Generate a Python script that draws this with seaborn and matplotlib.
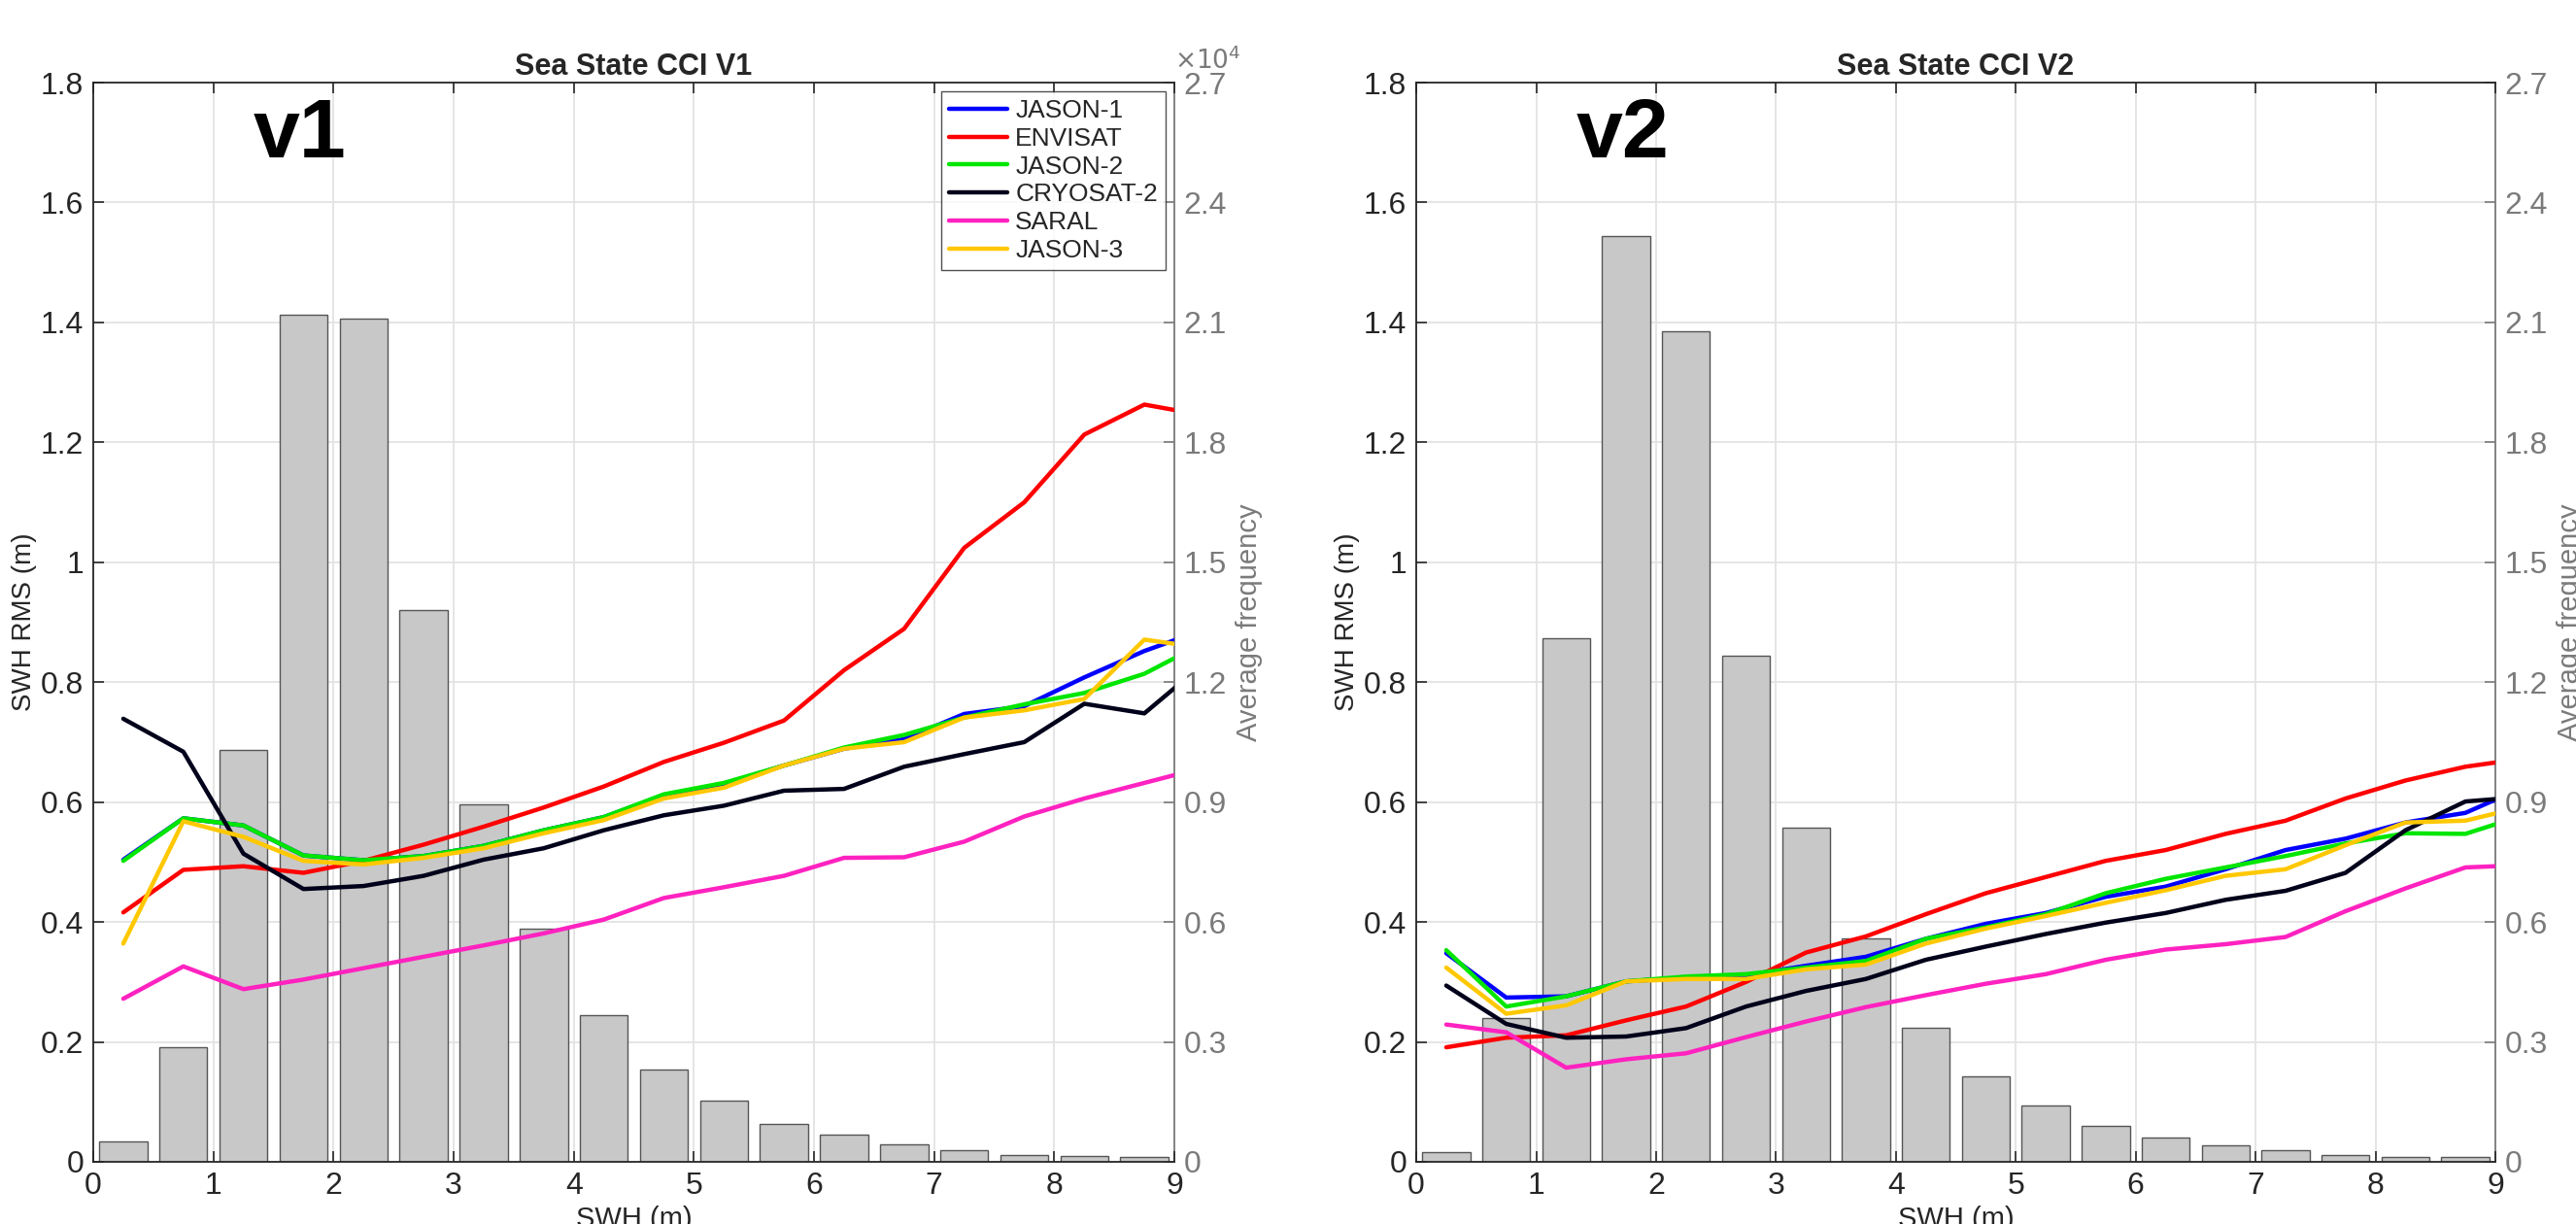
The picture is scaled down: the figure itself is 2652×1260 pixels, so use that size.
import numpy as np
import pandas as pd
import seaborn as sns
import matplotlib
matplotlib.use("Agg")
import matplotlib.pyplot as plt
from matplotlib.lines import Line2D
from matplotlib.ticker import FuncFormatter

sns.set_style("ticks")
plt.rcParams['font.family'] = ['Liberation Sans', 'DejaVu Sans']

# bin centres (m); the last line point lies past the axis and gets clipped at 9
bin_centres = [0.25, 0.75, 1.25, 1.75, 2.25, 2.75, 3.25, 3.75, 4.25,
               4.75, 5.25, 5.75, 6.25, 6.75, 7.25, 7.75, 8.25, 8.75]
line_x = bin_centres + [9.25]

missions = ['JASON-1', 'ENVISAT', 'JASON-2', 'CRYOSAT-2', 'SARAL', 'JASON-3']
colours = ['#0000ff', '#ff0000', '#00e600', '#00001a', '#ff22c0', '#ffc800']

# average frequency, in units of 1e4
v1_freq = [0.052, 0.286, 1.03, 2.12, 2.11, 1.38, 0.894, 0.584, 0.366,
           0.231, 0.154, 0.094, 0.068, 0.044, 0.028, 0.018, 0.014, 0.013]
v2_freq = [0.025, 0.359, 1.309, 2.317, 2.078, 1.267, 0.835, 0.560, 0.336,
           0.213, 0.141, 0.089, 0.060, 0.041, 0.028, 0.018, 0.013, 0.013]

# SWH RMS (m), version 1
v1_jason1 = [0.504, 0.573, 0.561, 0.511, 0.503, 0.510, 0.527, 0.553, 0.575, 0.611,
             0.630, 0.661, 0.689, 0.705, 0.747, 0.760, 0.808, 0.852, 0.888]
v1_envisat = [0.416, 0.487, 0.493, 0.482, 0.502, 0.529, 0.559, 0.591, 0.626, 0.667,
              0.699, 0.736, 0.820, 0.889, 1.024, 1.100, 1.213, 1.263, 1.245]
v1_jason2 = [0.502, 0.573, 0.561, 0.511, 0.503, 0.510, 0.527, 0.553, 0.575, 0.613,
             0.632, 0.661, 0.691, 0.712, 0.741, 0.763, 0.782, 0.814, 0.866]
v1_cryosat2 = [0.739, 0.684, 0.514, 0.455, 0.460, 0.477, 0.504, 0.523, 0.553, 0.578,
               0.594, 0.619, 0.622, 0.659, 0.680, 0.700, 0.764, 0.748, 0.832]
v1_saral = [0.272, 0.326, 0.288, 0.304, 0.323, 0.342, 0.361, 0.381, 0.404, 0.440,
            0.458, 0.477, 0.507, 0.508, 0.534, 0.576, 0.606, 0.632, 0.658]
v1_jason3 = [0.364, 0.568, 0.542, 0.502, 0.496, 0.507, 0.523, 0.548, 0.570, 0.606,
             0.624, 0.661, 0.689, 0.700, 0.741, 0.753, 0.772, 0.871, 0.857]

# SWH RMS (m), version 2
v2_jason1 = [0.348, 0.274, 0.276, 0.301, 0.307, 0.311, 0.327, 0.342, 0.372, 0.397,
             0.415, 0.442, 0.459, 0.488, 0.520, 0.539, 0.566, 0.582, 0.626]
v2_envisat = [0.191, 0.207, 0.211, 0.236, 0.259, 0.300, 0.349, 0.376, 0.413, 0.448,
              0.475, 0.502, 0.520, 0.547, 0.569, 0.606, 0.636, 0.659, 0.673]
v2_jason2 = [0.353, 0.259, 0.276, 0.301, 0.309, 0.313, 0.324, 0.335, 0.372, 0.391,
             0.413, 0.448, 0.472, 0.491, 0.510, 0.531, 0.548, 0.547, 0.579]
v2_cryosat2 = [0.294, 0.230, 0.207, 0.209, 0.223, 0.259, 0.285, 0.305, 0.337, 0.359,
               0.380, 0.399, 0.415, 0.437, 0.452, 0.482, 0.553, 0.601, 0.609]
v2_saral = [0.229, 0.216, 0.157, 0.171, 0.181, 0.208, 0.234, 0.258, 0.278, 0.297,
            0.313, 0.337, 0.354, 0.363, 0.375, 0.418, 0.456, 0.491, 0.495]
v2_jason3 = [0.324, 0.247, 0.261, 0.301, 0.305, 0.305, 0.321, 0.329, 0.364, 0.389,
             0.410, 0.432, 0.453, 0.477, 0.488, 0.528, 0.566, 0.569, 0.593]

v1_rms = [v1_jason1, v1_envisat, v1_jason2, v1_cryosat2, v1_saral, v1_jason3]
v2_rms = [v2_jason1, v2_envisat, v2_jason2, v2_cryosat2, v2_saral, v2_jason3]

DARK = '#262626'
GREY = '#7a7a7a'


def long_table(rms_lists):
    rows = []
    for name, vals in zip(missions, rms_lists):
        for x, v in zip(line_x, vals):
            rows.append((name, x, v))
    return pd.DataFrame(rows, columns=['mission', 'swh', 'rms'])


def draw_panel(ax, freq, rms_lists, title, tag, legend=False, exponent=False):
    tw = ax.twinx()
    ax.set_zorder(tw.get_zorder() + 1)
    ax.patch.set_visible(False)

    sns.barplot(x=bin_centres, y=freq, native_scale=True, width=0.8,
                color='#c8c8c8', saturation=1, edgecolor='#555555',
                linewidth=1.0, ax=tw)

    sns.lineplot(data=long_table(rms_lists), x='swh', y='rms', hue='mission',
                 hue_order=missions, palette=colours, linewidth=3.2,
                 legend=False, ax=ax)

    ax.set_xlim(0, 9)
    ax.set_ylim(0, 1.8)
    tw.set_ylim(0, 2.7)
    ax.set_xticks(np.arange(0, 10, 1))
    ax.set_yticks(np.arange(0, 1.81, 0.2))
    tw.set_yticks(np.arange(0, 2.71, 0.3))
    fmt = FuncFormatter(lambda v, p: '%g' % round(v, 3))
    ax.yaxis.set_major_formatter(fmt)
    tw.yaxis.set_major_formatter(fmt)
    ax.xaxis.set_major_formatter(fmt)

    # grid sits on the twin so the bars cover it
    tw.xaxis.set_visible(True)
    tw.tick_params(axis='x', bottom=False, top=False, labelbottom=False)
    tw.set_axisbelow(True)
    tw.grid(True, color='#e3e3e3', linewidth=1.3)

    ax.tick_params(axis='both', direction='in', length=8, width=1.2,
                   labelsize=23, colors=DARK, top=True, pad=7)
    tw.tick_params(axis='y', direction='in', length=8, width=1.2,
                   labelsize=23, colors=GREY, pad=7)
    for side in ['left', 'bottom', 'top']:
        ax.spines[side].set_visible(True)
        ax.spines[side].set_color(DARK)
        ax.spines[side].set_linewidth(1.3)
    ax.spines['right'].set_visible(False)
    for side in ['left', 'bottom', 'top']:
        tw.spines[side].set_visible(False)
    tw.spines['right'].set_color(GREY)
    tw.spines['right'].set_linewidth(1.3)

    ax.set_xlabel('SWH (m)', fontsize=21, color=DARK, labelpad=4)
    ax.set_ylabel('SWH RMS (m)', fontsize=20, color=DARK, labelpad=3)
    tw.set_ylabel('Average frequency', fontsize=21, color=GREY, labelpad=6)
    tw.set_xlabel('')
    ax.set_title(title, fontsize=22, fontweight='bold', pad=6)

    ax.text(1.33, 1.775, tag, fontsize=62, fontweight='bold', va='top',
            ha='left', color='black')

    if exponent:
        ax.text(1.0, 1.008, r'$\times10^4$', transform=ax.transAxes,
                fontsize=19, color=GREY, ha='left', va='bottom')

    if legend:
        handles = [Line2D([], [], color=c, lw=3.2) for c in colours]
        leg = ax.legend(handles, missions, loc='upper right', fontsize=19,
                        frameon=True, fancybox=False, edgecolor=DARK,
                        handlelength=2.3, handletextpad=0.3,
                        labelspacing=0.18, borderpad=0.3,
                        borderaxespad=0.35)
        leg.get_frame().set_linewidth(1.0)
        leg.set_zorder(10)


fig = plt.figure(figsize=(26.52, 12.6), dpi=100)
ax1 = fig.add_axes([0.0362, 0.0508, 0.4197, 0.8817])
ax2 = fig.add_axes([0.5498, 0.0508, 0.4189, 0.8817])

draw_panel(ax1, v1_freq, v1_rms, 'Sea State CCI V1', 'v1', legend=True, exponent=True)
draw_panel(ax2, v2_freq, v2_rms, 'Sea State CCI V2', 'v2')

fig.savefig('out.png', dpi=100, facecolor='white')
